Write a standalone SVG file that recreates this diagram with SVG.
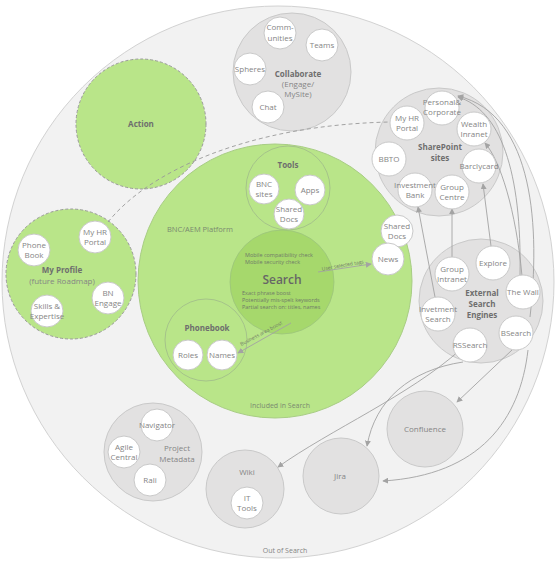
<svg xmlns="http://www.w3.org/2000/svg" width="556" height="564" viewBox="0 0 556 564">
<defs>
<style>
text{font-family:"Open Sans","Noto Sans","DejaVu Sans",sans-serif;fill:#858585;text-anchor:middle;font-size:8px}
.b{font-weight:bold;fill:#6e6e6e}
.grp{fill:#e2e1e1;stroke:#c9c9c9;stroke-width:1}
.nd{fill:#ffffff;stroke:#c9c9c9;stroke-width:1}
.grn{fill:#b9e589;stroke:#a8cd84;stroke-width:1}
.dgrn{fill:#b9e589;stroke:#9a9a9a;stroke-width:1;stroke-dasharray:3 2}
.sub{fill:none;stroke:#9fba8a;stroke-width:0.8}
.cn{fill:none;stroke:#a3a3a3;stroke-width:0.9;marker-end:url(#ah)}
.sm{font-size:5.5px;fill:#707a68;text-anchor:start}
</style>
<marker id="ah" viewBox="0 0 8 8" refX="7" refY="4" markerWidth="6" markerHeight="6" orient="auto" markerUnits="userSpaceOnUse">
<path d="M0,0 L8,4 L0,8 z" fill="#a3a3a3"/>
</marker>
</defs>
<rect width="556" height="564" fill="#ffffff"/>
<g id="out-of-search">
<circle cx="278" cy="282" r="276" fill="#f2f2f2" stroke="#d2d2d2" stroke-width="1"/>
<text x="285" y="553" style="font-size:7px">Out of Search</text>
</g>
<g id="bnc-platform">
<circle cx="275" cy="281" r="137" class="grn"/>
<text x="167" y="232" style="text-anchor:start;font-size:7.5px;fill:#7a8a70">BNC/AEM Platform</text>
<text x="280" y="408" style="font-size:7px;fill:#7a8a70">Included in Search</text>
</g>
<g id="action">
<circle cx="141" cy="124" r="65" class="dgrn"/>
<text x="141" y="127" class="b">Action</text>
</g>
<g id="my-profile">
<circle cx="71" cy="274" r="65" class="dgrn"/>
<text x="62" y="273" class="b">My Profile</text>
<text x="62" y="284">(future Roadmap)</text>
</g>
<g id="collaborate">
<circle cx="292" cy="72" r="59" class="grp"/>
<text x="298" y="77" class="b">Collaborate</text>
<text x="298" y="87">(Engage/</text>
<text x="298" y="97">MySite)</text>
</g>
<g id="sharepoint">
<circle cx="439" cy="152" r="64" class="grp"/>
<text x="440" y="150" class="b">SharePoint</text>
<text x="440" y="161" class="b">sites</text>
</g>
<g id="external-search">
<circle cx="481" cy="301" r="62" class="grp"/>
<text x="482" y="296" class="b">External</text>
<text x="482" y="307" class="b">Search</text>
<text x="482" y="318" class="b">Engines</text>
</g>
<g id="project-metadata">
<circle cx="153" cy="452" r="49" class="grp"/>
<text x="177" y="451">Project</text>
<text x="177" y="462">Metadata</text>
</g>
<g id="wiki">
<circle cx="245" cy="489" r="39" class="grp"/>
<text x="247" y="475">Wiki</text>
</g>
<g id="jira">
<circle cx="341" cy="476" r="38" class="grp"/>
<text x="340" y="479">Jira</text>
</g>
<g id="confluence">
<circle cx="425" cy="429" r="38" class="grp"/>
<text x="425" y="432">Confluence</text>
</g>
<g id="tools">
<circle cx="288" cy="188" r="42" class="sub"/>
<text x="288" y="168" class="b">Tools</text>
</g>
<g id="phonebook">
<circle cx="206" cy="340" r="41" class="sub"/>
<text x="207" y="331" class="b">Phonebook</text>
</g>
<g id="search">
<circle cx="282" cy="282" r="52" fill="#a6d86c" stroke="#9cc47c" stroke-width="0.8"/>
<text x="245" y="257" class="sm">Mobile compatibility check</text>
<text x="245" y="264" class="sm">Mobile security check</text>
<text x="282" y="284" style="font-size:12px;font-weight:600;fill:#666">Search</text>
<text x="242" y="295" class="sm">Exact phrase boost</text>
<text x="242" y="302" class="sm">Potentially mis-spelt keywords</text>
<text x="242" y="309" class="sm">Partial search on: titles, names</text>
</g>
<g id="connectors">
<path class="cn" d="M108,222 C150,170 250,125 390,122" style="stroke-dasharray:4 3;marker-end:none;stroke:#999"/>
<path class="cn" d="M318,272 L371,264"/>
<text transform="translate(343,267) rotate(-10)" style="font-size:5px;fill:#707a68">User selected tags</text>
<path class="cn" d="M291,323 L238,353"/>
<text transform="translate(262,335) rotate(-28)" style="font-size:5px;fill:#707a68">Business area boost</text>
<path class="cn" d="M435,297 L418,207"/>
<path class="cn" d="M452,257 L452,209"/>
<path class="cn" d="M491,246 L483,184"/>
<path class="cn" d="M522,276 C516,210 500,160 485,143"/>
<path class="cn" d="M520,276 C522,170 500,110 458,97"/>
<path class="cn" d="M530,317 C540,230 535,115 458,96"/>
<path class="cn" d="M460,350 C410,395 330,430 278,467"/>
<path class="cn" d="M463,362 C410,370 375,400 367,446"/>
<path class="cn" d="M512,350 L457,402"/>
<path class="cn" d="M528,350 C520,420 480,475 383,481"/>
</g>
<g id="n-communities"><circle cx="280" cy="33" r="16" class="nd"/><text x="280" y="30">Comm-</text><text x="280" y="40.5">unities</text></g>
<g id="n-teams"><circle cx="322" cy="45" r="16" class="nd"/><text x="322" y="48">Teams</text></g>
<g id="n-spheres"><circle cx="250" cy="69" r="16" class="nd"/><text x="250" y="72">Spheres</text></g>
<g id="n-chat"><circle cx="268" cy="107" r="16" class="nd"/><text x="268" y="110">Chat</text></g>
<g id="n-personal"><circle cx="442" cy="108" r="17" class="nd"/><text x="442" y="105">Personal&amp;</text><text x="442" y="115">Corporate</text></g>
<g id="n-myhr-sp"><circle cx="407" cy="123" r="17" class="nd"/><text x="407" y="121">My HR</text><text x="407" y="131">Portal</text></g>
<g id="n-wealth"><circle cx="474" cy="129" r="17" class="nd"/><text x="474" y="127">Wealth</text><text x="474" y="137">Inranet</text></g>
<g id="n-bbto"><circle cx="389" cy="159" r="17" class="nd"/><text x="389" y="162">BBTO</text></g>
<g id="n-barclycard"><circle cx="479" cy="166" r="17" class="nd"/><text x="479" y="169">Barclycard</text></g>
<g id="n-investment-bank"><circle cx="415" cy="190" r="17" class="nd"/><text x="415" y="188">Investment</text><text x="415" y="198">Bank</text></g>
<g id="n-group-centre"><circle cx="452" cy="192" r="17" class="nd"/><text x="452" y="190">Group</text><text x="452" y="200">Centre</text></g>
<g id="n-group-intranet"><circle cx="452" cy="274" r="17" class="nd"/><text x="452" y="272">Group</text><text x="452" y="282">Intranet</text></g>
<g id="n-explore"><circle cx="493" cy="263" r="17" class="nd"/><text x="493" y="266">Explore</text></g>
<g id="n-thewall"><circle cx="523" cy="292" r="17" class="nd"/><text x="523" y="295">The Wall</text></g>
<g id="n-invetment-search"><circle cx="438" cy="314" r="17" class="nd"/><text x="438" y="312">Invetment</text><text x="438" y="322">Search</text></g>
<g id="n-bsearch"><circle cx="516" cy="333" r="17" class="nd"/><text x="516" y="336">BSearch</text></g>
<g id="n-rssearch"><circle cx="470" cy="345" r="17" class="nd"/><text x="470" y="348">RSSearch</text></g>
<g id="n-shared-docs-out"><circle cx="397" cy="231" r="16" class="nd"/><text x="397" y="229">Shared</text><text x="397" y="239">Docs</text></g>
<g id="n-news"><circle cx="388" cy="259" r="16" class="nd"/><text x="388" y="262">News</text></g>
<g id="n-bnc-sites"><circle cx="264" cy="189" r="15" class="nd"/><text x="264" y="187">BNC</text><text x="264" y="197">sites</text></g>
<g id="n-apps"><circle cx="310" cy="190" r="15" class="nd"/><text x="310" y="193">Apps</text></g>
<g id="n-shared-docs"><circle cx="289" cy="214" r="15" class="nd"/><text x="289" y="212">Shared</text><text x="289" y="222">Docs</text></g>
<g id="n-roles"><circle cx="188" cy="355" r="15" class="nd"/><text x="188" y="358">Roles</text></g>
<g id="n-names"><circle cx="222" cy="355" r="15" class="nd"/><text x="222" y="358">Names</text></g>
<g id="n-phone-book"><circle cx="34" cy="250" r="16" class="nd"/><text x="34" y="248">Phone</text><text x="34" y="258">Book</text></g>
<g id="n-myhr-profile"><circle cx="95" cy="237" r="16" class="nd"/><text x="95" y="235">My HR</text><text x="95" y="245">Portal</text></g>
<g id="n-bn-engage"><circle cx="108" cy="298" r="16" class="nd"/><text x="108" y="296">BN</text><text x="108" y="306">Engage</text></g>
<g id="n-skills"><circle cx="47" cy="311" r="16" class="nd"/><text x="47" y="309">Skills &amp;</text><text x="47" y="319">Expertise</text></g>
<g id="n-navigator"><circle cx="157" cy="425" r="16" class="nd"/><text x="157" y="428">Navigator</text></g>
<g id="n-agile"><circle cx="124" cy="452" r="16" class="nd"/><text x="124" y="450">Agile</text><text x="124" y="460">Central</text></g>
<g id="n-rali"><circle cx="150" cy="480" r="16" class="nd"/><text x="150" y="483">Rali</text></g>
<g id="n-it-tools"><circle cx="247" cy="503" r="16" class="nd"/><text x="247" y="501">IT</text><text x="247" y="511">Tools</text></g>
</svg>
